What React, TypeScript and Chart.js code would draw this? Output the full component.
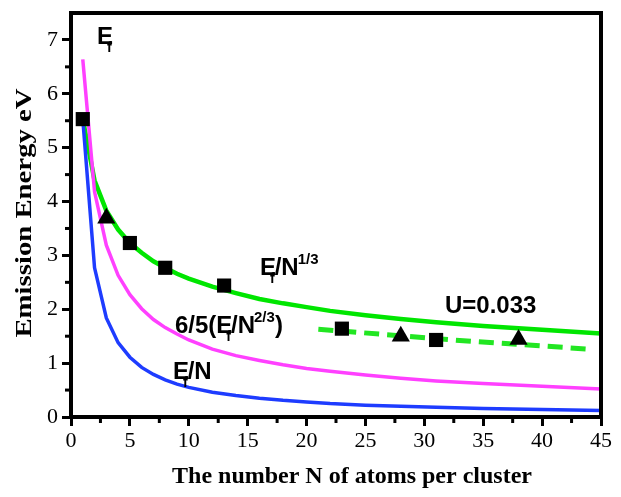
import React, { useEffect, useRef } from "react";
import { Chart, registerables } from "chart.js";

Chart.register(...registerables);

// Curve sample points (N) and values
const curveN = [1, 2, 3, 4, 5, 6, 7, 8, 9, 10, 12, 14, 16, 18, 20, 22, 25, 28, 31, 35, 40, 45];
const greenCurve = [5.53, 4.39, 3.83, 3.48, 3.23, 3.05, 2.89, 2.77, 2.66, 2.57, 2.42, 2.3, 2.19, 2.11, 2.04, 1.97, 1.89, 1.82, 1.76, 1.69, 1.62, 1.55];
const magentaCurve = [6.64, 4.18, 3.19, 2.63, 2.27, 2.01, 1.81, 1.66, 1.54, 1.43, 1.26, 1.14, 1.05, 0.97, 0.9, 0.85, 0.78, 0.72, 0.67, 0.62, 0.57, 0.52];
const blueCurve = [5.53, 2.77, 1.84, 1.38, 1.11, 0.92, 0.79, 0.69, 0.61, 0.55, 0.46, 0.4, 0.35, 0.31, 0.28, 0.25, 0.22, 0.2, 0.18, 0.16, 0.14, 0.12];

// Dashed fit (U=0.033)
const dashedN = [21, 33, 44];
const dashedE = [1.63, 1.42, 1.26];

// Measured points
const squareN = [1, 5, 8, 13, 23, 31];
const squareE = [5.53, 3.23, 2.77, 2.44, 1.64, 1.43];
const triangleN = [3, 28, 38];
const triangleE = [3.69, 1.5, 1.44];

// Axis ranges / ticks
const xMin = 0, xMax = 45, xStep = 5, xMinorStep = 2.5;
const yMin = 0, yMax = 7.5, yStep = 1, yMinorStep = 0.5;
const xTitle = "The number N of atoms per cluster";
const yTitle = "Emission Energy eV";

const toXY = (xs: number[], ys: number[]) => xs.map((x, i) => ({ x, y: ys[i] }));

type Seg = { t: string; kind?: "sub" | "sup" };
const labels: { x: number; y: number; segs: Seg[] }[] = [
  { x: 2.2, y: 6.93, segs: [{ t: "E" }, { t: "f", kind: "sub" }] },
  { x: 16.05, y: 2.63, segs: [{ t: "E" }, { t: "f", kind: "sub" }, { t: "/N" }, { t: "1/3", kind: "sup" }] },
  { x: 8.83, y: 1.56, segs: [{ t: "6/5(E" }, { t: "f", kind: "sub" }, { t: "/N" }, { t: "2/3", kind: "sup" }, { t: ")" }] },
  { x: 8.66, y: 0.7, segs: [{ t: "E" }, { t: "f", kind: "sub" }, { t: "/N" }] },
  { x: 31.75, y: 1.93, segs: [{ t: "U=0.033" }] },
];

const SANS = "'Liberation Sans', Arial, sans-serif";
const SERIF = "'Liberation Serif', 'Times New Roman', serif";

const framePlugin = {
  id: "frameAndLabels",
  afterDraw(chart: any) {
    const { ctx, chartArea, scales } = chart;
    const xs = scales.x, ys = scales.y;
    ctx.save();
    // frame
    ctx.strokeStyle = "#000";
    ctx.lineWidth = 4;
    ctx.lineCap = "square";
    ctx.beginPath();
    ctx.moveTo(chartArea.left, chartArea.bottom);
    ctx.lineTo(chartArea.left, chartArea.top);
    ctx.lineTo(chartArea.right, chartArea.top);
    ctx.lineTo(chartArea.right, chartArea.bottom);
    ctx.lineTo(chartArea.left, chartArea.bottom);
    ctx.stroke();
    // minor ticks
    ctx.lineWidth = 3;
    ctx.lineCap = "butt";
    for (let v = xMin + xMinorStep; v < xMax; v += xStep) {
      const px = xs.getPixelForValue(v);
      ctx.beginPath();
      ctx.moveTo(px, chartArea.bottom);
      ctx.lineTo(px, chartArea.bottom + 6);
      ctx.stroke();
    }
    for (let v = yMin + yMinorStep; v < yMax; v += yStep) {
      const py = ys.getPixelForValue(v);
      ctx.beginPath();
      ctx.moveTo(chartArea.left, py);
      ctx.lineTo(chartArea.left - 6, py);
      ctx.stroke();
    }
    ctx.fillStyle = "#000";
    // x axis title
    ctx.font = `bold 24px ${SERIF}`;
    ctx.textAlign = "center";
    ctx.textBaseline = "alphabetic";
    ctx.fillText(xTitle, (chartArea.left + chartArea.right) / 2 + 16, 483);
    // y axis title (slightly stretched along its length, as in the original)
    ctx.save();
    ctx.font = `bold 23px ${SERIF}`;
    ctx.textAlign = "center";
    ctx.textBaseline = "middle";
    ctx.translate(25, (chartArea.top + chartArea.bottom) / 2 - 2);
    ctx.rotate(-Math.PI / 2);
    ctx.scale(1.25, 1);
    ctx.fillText(yTitle, 0, 0);
    ctx.restore();
    // annotations
    ctx.textBaseline = "alphabetic";
    ctx.textAlign = "left";
    for (const lab of labels) {
      let px = xs.getPixelForValue(lab.x);
      const py = ys.getPixelForValue(lab.y);
      for (const s of lab.segs) {
        if (s.kind === "sub") {
          ctx.font = `bold 14px ${SANS}`;
          const w = ctx.measureText(s.t).width;
          ctx.fillText(s.t, px - 6, py + 8);
          px += w - 6;
        } else if (s.kind === "sup") {
          ctx.font = `bold 15px ${SANS}`;
          const w = ctx.measureText(s.t).width;
          ctx.fillText(s.t, px - 1, py - 11);
          px += w - 1;
        } else {
          ctx.font = `bold 24px ${SANS}`;
          ctx.fillText(s.t, px, py);
          px += ctx.measureText(s.t).width;
        }
      }
    }
    ctx.restore();
  },
};

export default function App() {
  const ref = useRef<HTMLCanvasElement | null>(null);
  useEffect(() => {
    if (!ref.current) return;
    const chart = new Chart(ref.current, {
      type: "scatter",
      data: {
        datasets: [
          { data: toXY(squareN, squareE), showLine: false, pointStyle: "rect", pointRadius: 10, backgroundColor: "#000", borderColor: "#000", borderWidth: 0, order: 1 },
          { data: toXY(triangleN, triangleE), showLine: false, pointStyle: "triangle", pointRadius: 10.5, backgroundColor: "#000", borderColor: "#000", borderWidth: 0, order: 1 },
          { data: toXY(curveN, blueCurve), showLine: true, borderColor: "#1e3cff", borderWidth: 3.5, pointRadius: 0, order: 5 },
          { data: toXY(curveN, magentaCurve), showLine: true, borderColor: "#ff40ff", borderWidth: 3.5, pointRadius: 0, order: 5 },
          { data: toXY(curveN, greenCurve), showLine: true, borderColor: "#00e600", borderWidth: 4.5, pointRadius: 0, order: 5 },
          { data: toXY(dashedN, dashedE), showLine: true, borderColor: "#22e622", borderWidth: 5, borderDash: [15, 8], pointRadius: 0, order: 5 },
        ],
      },
      options: {
        animation: false,
        responsive: false,
        maintainAspectRatio: false,
        layout: { padding: { top: 13, right: 20, left: 0, bottom: 0 } },
        plugins: { legend: { display: false }, tooltip: { enabled: false } },
        scales: {
          x: {
            type: "linear",
            min: xMin,
            max: xMax,
            afterFit: (s: any) => { s.height = 80; s.paddingLeft = 0; s.paddingRight = 0; },
            ticks: { stepSize: xStep, color: "#000", font: { family: SERIF, size: 22 }, padding: 2, maxRotation: 0 },
            grid: { drawOnChartArea: false, drawTicks: true, tickLength: 9, tickWidth: 3, tickColor: "#000" },
            border: { display: false },
            title: { display: false, text: xTitle },
          },
          y: {
            type: "linear",
            min: yMin,
            max: yMax,
            afterFit: (s: any) => { s.width = 71; s.paddingTop = 0; s.paddingBottom = 0; },
            ticks: {
              stepSize: yStep,
              color: "#000",
              font: { family: SERIF, size: 22 },
              padding: 4,
              callback: (v: any) => (Number.isInteger(v) ? String(v) : null),
            },
            grid: { drawOnChartArea: false, drawTicks: true, tickLength: 9, tickWidth: 3, tickColor: "#000" },
            border: { display: false },
            title: { display: false, text: yTitle },
          },
        },
      },
      plugins: [framePlugin],
    } as any);
    return () => chart.destroy();
  }, []);
  return (
    <div style={{ position: "fixed", left: 0, top: 0, width: 621, height: 497, background: "#fff" }}>
      <canvas ref={ref} width={621} height={497} style={{ width: 621, height: 497, display: "block" }} />
    </div>
  );
}
